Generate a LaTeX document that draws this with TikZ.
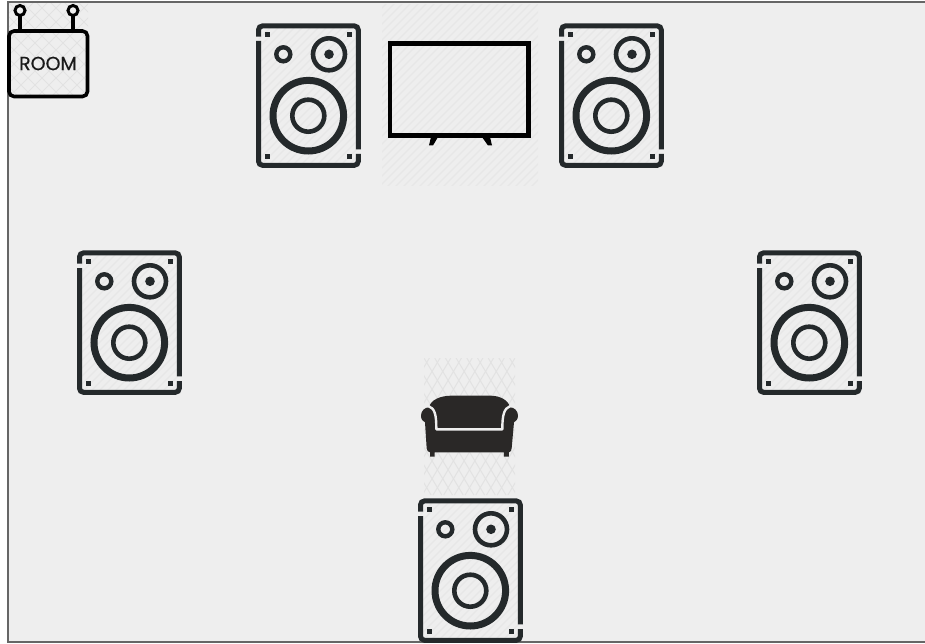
\documentclass[tikz,border=0pt]{standalone}
\usepackage{fontspec}
\setmainfont[FakeBold=0.5]{Poppins}
\definecolor{floorc}{HTML}{EEEEEE}
\definecolor{framec}{HTML}{666666}
\definecolor{hatchc}{HTML}{E7E7E7}
\definecolor{crossc}{HTML}{E2E2E2}
\definecolor{speakerc}{HTML}{24292B}
\definecolor{sofac}{HTML}{2A2827}
\tikzset{
  x=1pt,y=-1pt,
  hatchline/.style={hatchc,line width=1.2pt},
  crossline/.style={draw=crossc,line width=1pt},
  spk/.style={draw=speakerc,fill=none},
  speaker/.pic={
    \begin{scope}
      \clip (2.5,2) rectangle (102.5,142);
      \foreach \k in {-140,-132,...,110}{\draw[hatchline] (\k,150)--(\k+150,0);}
    \end{scope}
    \draw[spk,line width=5pt,line cap=butt,rounded corners=4pt]
      (2.5,12.7) -- (2.5,1.9) -- (102.3,1.9) -- (102.3,125.3);
    \draw[spk,line width=5pt,line cap=butt,rounded corners=4pt]
      (102.3,130) -- (102.3,141.3) -- (2.5,141.3) -- (2.5,17);
    \foreach \p in {(11.3,10.3),(93.3,10.3),(11.3,132.7),(93.3,132.7)}
      \fill[speakerc] \p +(-2.3,-2.3) rectangle +(2.3,2.3);
    \draw[spk,line width=4.4pt] (27.3,30.3) circle[radius=7];
    \draw[spk,line width=4.6pt] (73,30.3) circle[radius=16];
    \fill[speakerc] (73,30.3) circle[radius=4.8];
    \draw[spk,line width=7pt] (52.3,91.7) circle[radius=35.3];
    \draw[spk,line width=4.6pt] (52.3,91.7) circle[radius=16];
  }
}
\begin{document}
\begin{tikzpicture}
\useasboundingbox (0,0) rectangle (925,644);
\fill[white] (0,0) rectangle (925,644);
\fill[floorc] (7.5,2) rectangle (925,642);
\draw[framec,line width=2pt] (925,2) -- (7.5,2) -- (7.5,642) -- (925,642);
% TV hatch
\begin{scope}
  \clip (382,5) rectangle (538,186);
  \foreach \k in {150,158,...,560}{\draw[hatchline] (\k,200)--(\k+200,0);}
\end{scope}
% room hatch
\begin{scope}
  \clip (9,3.2) rectangle (88,97);
  \foreach \k in {-120,-106,...,110}{
    \draw[crossline] (\k,100)--(\k+100,0);
    \draw[crossline] (\k,0)--(\k+100,100);
  }
\end{scope}
% sofa hatch
\begin{scope}
  \clip (424,358) rectangle (515,495);
  \foreach \k in {-12,...,12}{
    \draw[crossline] (424+\k*10.7,358) -- ++(82,137);
    \draw[crossline] (515-\k*10.7,358) -- ++(-82,137);
  }
\end{scope}
% room sign
\draw[black,line width=3.4pt] (20,15) -- (20,32) (73,15) -- (73,32);
\draw[black,line width=3pt,fill=floorc] (20,10.5) circle[radius=5];
\draw[black,line width=3pt,fill=floorc] (73,10.5) circle[radius=5];
\draw[black,line width=3.6pt,rounded corners=5pt] (9,31) rectangle (87.5,96.5);
\node[font=\fontsize{19}{22}\selectfont,text=black!90] (roomlabel) at (48,63.5) {ROOM};
% tv
\draw[black,line width=4.9pt,miter limit=10] (390,43.3) rectangle (528.9,135.5);
\fill[black] (431,137) -- (438,137) -- (433,145.5) -- (429,145.5) -- cycle;
\fill[black] (482,137) -- (490,137) -- (492,145.5) -- (488,145.5) -- cycle;
% speakers
\pic at (256,24) {speaker};
\pic at (559,24) {speaker};
\pic at (77,251) {speaker};
\pic at (757,251) {speaker};
\pic at (418,499) {speaker};
% sofa
\begin{scope}[shift={(410,350)},x=0.3333pt,y=-0.3333pt]
  \fill[sofac] (57,172) .. controls (62,150) and (90,137) .. (125,137)
    -- (240,137) .. controls (270,137) and (295,150) .. (300,172)
    .. controls (312,172) and (324,182) .. (324,197)
    .. controls (324,208) and (318,214) .. (312,217)
    -- (305,295) .. controls (304,302) and (302,306) .. (297,307)
    -- (297,320) -- (282,320) -- (282,307) -- (74,307) -- (74,320) -- (60,320) -- (60,307)
    .. controls (54,306) and (51,302) .. (50,295)
    -- (45,217) .. controls (38,214) and (33,208) .. (33,197)
    .. controls (33,182) and (45,172) .. (57,172) -- cycle;
  \draw[floorc,line width=2.4pt,line join=round]
    (55,168) .. controls (75,175) and (79,195) .. (79,238) -- (277,238)
    .. controls (277,195) and (282,175) .. (301,168);
\end{scope}
\end{tikzpicture}
\end{document}
